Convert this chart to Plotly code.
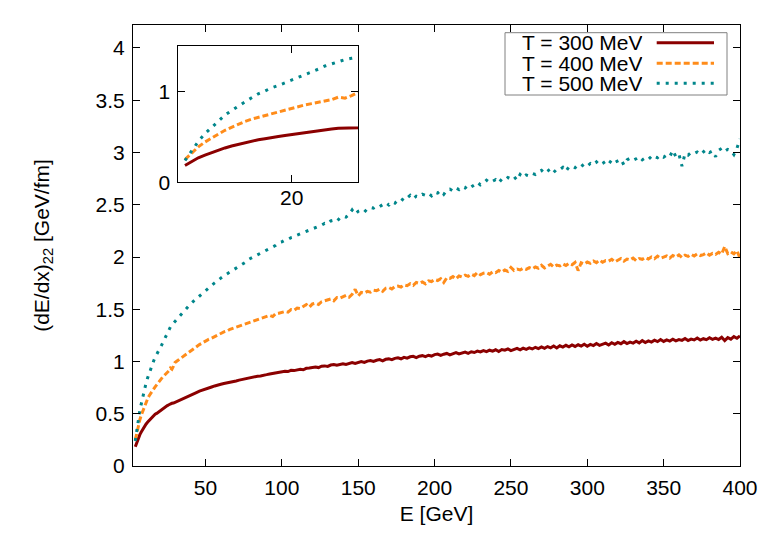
import plotly.graph_objects as go

# ---------------- data ----------------
E = list(range(4, 31)) + list(range(32, 401, 2))

dEdx_300 = [
    0.185, 0.23, 0.27, 0.30, 0.327, 0.355, 0.378, 0.40, 0.418, 0.435, 0.452, 0.468, 0.48, 0.495,
    0.503, 0.515, 0.526, 0.538, 0.548, 0.558, 0.568, 0.578, 0.586, 0.595, 0.60, 0.603, 0.61,
    0.624, 0.638, 0.651, 0.668, 0.679, 0.692, 0.703, 0.716, 0.727, 0.741,
    0.748, 0.756, 0.766, 0.771, 0.782, 0.789, 0.794, 0.803, 0.811, 0.814,
    0.822, 0.829, 0.832, 0.842, 0.846, 0.851, 0.859, 0.862, 0.871, 0.874,
    0.881, 0.886, 0.889, 0.899, 0.901, 0.907, 0.904, 0.916, 0.913, 0.922,
    0.926, 0.921, 0.935, 0.938, 0.941, 0.948, 0.942, 0.955, 0.958, 0.953,
    0.966, 0.971, 0.964, 0.975, 0.979, 0.972, 0.985, 0.99, 0.981, 0.993,
    1.0, 0.991, 1.004, 1.009, 1.001, 1.012, 1.018, 1.006, 1.021, 1.025,
    1.017, 1.03, 1.035, 1.026, 1.04, 1.032, 1.045, 1.049, 1.038, 1.051,
    1.056, 1.047, 1.06, 1.052, 1.066, 1.071, 1.059, 1.07, 1.077, 1.064,
    1.078, 1.085, 1.072, 1.083, 1.09, 1.078, 1.093, 1.086, 1.099, 1.091,
    1.104, 1.094, 1.108, 1.099, 1.112, 1.096, 1.114, 1.108, 1.121, 1.104,
    1.118, 1.126, 1.111, 1.128, 1.116, 1.131, 1.12, 1.136, 1.124, 1.14,
    1.126, 1.143, 1.131, 1.148, 1.13, 1.15, 1.138, 1.155, 1.14, 1.158,
    1.144, 1.16, 1.148, 1.165, 1.146, 1.163, 1.152, 1.172, 1.155, 1.168,
    1.176, 1.158, 1.179, 1.164, 1.183, 1.17, 1.19, 1.172, 1.186, 1.176,
    1.194, 1.178, 1.2, 1.182, 1.197, 1.186, 1.204, 1.19, 1.21, 1.192,
    1.206, 1.195, 1.213, 1.198, 1.21, 1.202, 1.22, 1.2, 1.214, 1.206,
    1.224, 1.205, 1.218, 1.209, 1.227, 1.212, 1.224, 1.21, 1.232, 1.2,
    1.228, 1.214, 1.238, 1.222, 1.245,
]

dEdx_400 = [
    0.25, 0.32, 0.39, 0.443, 0.49, 0.53, 0.572, 0.607, 0.64, 0.67, 0.695, 0.715, 0.735, 0.757,
    0.776, 0.797, 0.815, 0.835, 0.852, 0.866, 0.878, 0.89, 0.91, 0.937, 0.926, 0.955, 0.99,
    1.012, 1.034, 1.055, 1.08, 1.098, 1.121, 1.138, 1.162, 1.178, 1.197,
    1.212, 1.224, 1.241, 1.255, 1.268, 1.283, 1.291, 1.308, 1.318, 1.332,
    1.339, 1.352, 1.358, 1.374, 1.381, 1.388, 1.402, 1.407, 1.419, 1.428,
    1.441, 1.43, 1.458, 1.462, 1.472, 1.478, 1.472, 1.496, 1.49, 1.512,
    1.507, 1.524, 1.545, 1.52, 1.551, 1.558, 1.546, 1.572, 1.579, 1.586,
    1.598, 1.581, 1.612, 1.605, 1.62, 1.632, 1.615, 1.644, 1.69, 1.628,
    1.662, 1.655, 1.671, 1.664, 1.683, 1.678, 1.692, 1.672, 1.701, 1.708,
    1.694, 1.716, 1.721, 1.712, 1.733, 1.725, 1.745, 1.729, 1.756, 1.748,
    1.762, 1.744, 1.772, 1.765, 1.784, 1.775, 1.792, 1.756, 1.8, 1.795,
    1.812, 1.79, 1.818, 1.808, 1.826, 1.815, 1.835, 1.822, 1.852, 1.83,
    1.845, 1.85, 1.836, 1.858, 1.85, 1.87, 1.855, 1.875, 1.862, 1.9,
    1.872, 1.884, 1.876, 1.892, 1.882, 1.898, 1.886, 1.904, 1.893, 1.92,
    1.895, 1.91, 1.93, 1.905, 1.922, 1.914, 1.935, 1.918, 1.94, 1.926,
    1.948, 1.87, 1.945, 1.932, 1.952, 1.94, 1.962, 1.946, 1.97, 1.95,
    1.965, 1.96, 1.978, 1.952, 1.97, 1.985, 1.96, 1.98, 1.972, 1.99,
    1.965, 1.985, 1.978, 1.996, 1.98, 2.0, 1.984, 2.008, 1.988, 1.998,
    2.01, 1.99, 2.015, 2.0, 2.02, 1.995, 2.018, 2.006, 2.026, 2.01,
    2.03, 2.014, 2.022, 2.04, 2.018, 2.035, 2.025, 2.045, 2.028, 2.1,
    2.032, 2.05, 2.03, 2.06, 1.99,
]

dEdx_500 = [
    0.24, 0.34, 0.45, 0.535, 0.60, 0.675, 0.74, 0.79, 0.84, 0.885, 0.93, 0.974, 1.005, 1.04,
    1.065, 1.095, 1.12, 1.15, 1.18, 1.21, 1.245, 1.28, 1.305, 1.33, 1.35, 1.365, 1.38,
    1.415, 1.45, 1.482, 1.518, 1.548, 1.575, 1.602, 1.628, 1.655, 1.68,
    1.705, 1.728, 1.752, 1.778, 1.798, 1.82, 1.838, 1.862, 1.878, 1.9,
    1.915, 1.936, 1.948, 1.975, 1.99, 2.005, 2.02, 2.04, 2.052, 2.07,
    2.085, 2.102, 2.112, 2.138, 2.145, 2.162, 2.168, 2.185, 2.192, 2.21,
    2.222, 2.23, 2.248, 2.255, 2.27, 2.28, 2.295, 2.305, 2.322, 2.315,
    2.345, 2.352, 2.34, 2.375, 2.39, 2.382, 2.405, 2.45, 2.41, 2.438,
    2.448, 2.43, 2.462, 2.474, 2.468, 2.49, 2.482, 2.505, 2.52, 2.498,
    2.53, 2.515, 2.545, 2.56, 2.538, 2.565, 2.59, 2.558, 2.582, 2.575,
    2.6, 2.59, 2.61, 2.585, 2.62, 2.612, 2.635, 2.6, 2.64, 2.65,
    2.632, 2.66, 2.645, 2.672, 2.66, 2.688, 2.67, 2.69, 2.715, 2.69,
    2.705, 2.735, 2.712, 2.725, 2.74, 2.71, 2.745, 2.735, 2.76, 2.748,
    2.77, 2.735, 2.79, 2.76, 2.785, 2.775, 2.8, 2.79, 2.815, 2.83,
    2.8, 2.822, 2.845, 2.81, 2.84, 2.835, 2.858, 2.82, 2.862, 2.87,
    2.855, 2.88, 2.865, 2.89, 2.87, 2.895, 2.88, 2.91, 2.88, 2.895,
    2.915, 2.89, 2.93, 2.905, 2.92, 2.935, 2.88, 2.93, 2.945, 2.925,
    2.94, 2.96, 2.93, 2.95, 2.965, 2.935, 2.96, 2.95, 2.975, 2.955,
    2.975, 2.96, 3.02, 2.96, 2.985, 2.87, 2.99, 2.975, 3.0, 2.99,
    3.005, 2.98, 3.01, 3.03, 3.0, 3.015, 2.96, 3.02, 3.04, 3.01,
    3.03, 3.02, 2.98, 3.04, 3.13,
]

series_labels = ["T = 300 MeV", "T = 400 MeV", "T = 500 MeV"]
series_values = [dEdx_300, dEdx_400, dEdx_500]

x_main_ticks = [50, 100, 150, 200, 250, 300, 350, 400]
y_main_ticks = [0, 0.5, 1, 1.5, 2, 2.5, 3, 3.5, 4]
x_inset_ticks = [20]
y_inset_ticks = [0, 1]

# ---------------- styles ----------------
colors = ["#8b0000", "#ff8c1a", "#00868b"]
dashes = ["solid", "6px,3px", "3px,6px"]
widths = [3, 3, 3]
FONT = "Liberation Sans, Arial, sans-serif"
FS = 21

fig = go.Figure()
for lab, vals, c, d, w in zip(series_labels, series_values, colors, dashes, widths):
    fig.add_trace(go.Scatter(x=E, y=vals, mode="lines", name=lab,
                             line=dict(color=c, dash=d, width=w),
                             xaxis="x", yaxis="y", showlegend=False))
for lab, vals, c, d, w in zip(series_labels, series_values, colors, dashes, widths):
    fig.add_trace(go.Scatter(x=E, y=vals, mode="lines", name=lab,
                             line=dict(color=c, dash=d, width=w),
                             xaxis="x2", yaxis="y2", showlegend=False))

axis_common = dict(showline=True, linecolor="black", linewidth=1, mirror="ticks",
                   ticks="inside", ticklen=7, tickwidth=1, tickcolor="black",
                   showgrid=False, zeroline=False,
                   tickfont=dict(family=FONT, size=FS, color="black"))

L, R, T, B = 133, 23, 25, 68
W, H = 763, 534
pw, ph = W - L - R, H - T - B

def px_x(p):
    return (p - L) / pw

def px_y(p):
    return (H - B - p) / ph

fig.update_layout(
    width=W, height=H,
    margin=dict(l=L, r=R, t=T, b=B, autoexpand=False),
    paper_bgcolor="white", plot_bgcolor="white",
    font=dict(family=FONT, size=FS, color="black"),
    xaxis=dict(range=[2.5, 400], tickvals=x_main_ticks, domain=[0, 1],
               ticklabelstandoff=3,
               title=dict(text="E [GeV]", font=dict(family=FONT, size=FS), standoff=8),
               **axis_common),
    yaxis=dict(range=[0, 4.22], tickvals=y_main_ticks, domain=[0, 1],
               ticklabelstandoff=3,
               title=dict(text="(dE/dx)<sub>22</sub> [GeV/fm]", font=dict(family=FONT, size=FS),
                          standoff=40),
               **axis_common),
    xaxis2=dict(range=[3, 30], tickvals=x_inset_ticks, anchor="y2",
                ticklabelstandoff=-4,
                domain=[px_x(178.3), px_x(358.3)], **axis_common),
    yaxis2=dict(range=[0, 1.5], tickvals=y_inset_ticks, anchor="x2",
                ticklabelstandoff=3,
                domain=[px_y(182.3), px_y(46)], **axis_common),
)

# ---------------- legend (gnuplot style: text then sample) ----------------
shapes = [dict(type="rect", xref="paper", yref="paper",
               x0=px_x(505), x1=px_x(727), y0=px_y(95), y1=px_y(32.7),
               line=dict(color="#808080", width=1), fillcolor="white", layer="above")]
rows = [42.7, 63.3, 83.3]
annotations = []
for lab, c, d, w, ry in zip(series_labels, colors, dashes, widths, rows):
    shapes.append(dict(type="line", xref="paper", yref="paper",
                       x0=px_x(656.7), x1=px_x(714), y0=px_y(ry), y1=px_y(ry),
                       line=dict(color=c, dash=d, width=w), layer="above"))
    annotations.append(dict(xref="paper", yref="paper", x=px_x(643.3), y=px_y(ry),
                            xanchor="right", yanchor="middle", text=lab, showarrow=False,
                            height=19, valign="middle", borderpad=0,
                            font=dict(family=FONT, size=FS, color="black")))
fig.update_layout(shapes=shapes, annotations=annotations)

fig.write_html("out.html", config={"displayModeBar": False},
               post_script="document.body.style.margin='0';document.body.style.padding='0';")
